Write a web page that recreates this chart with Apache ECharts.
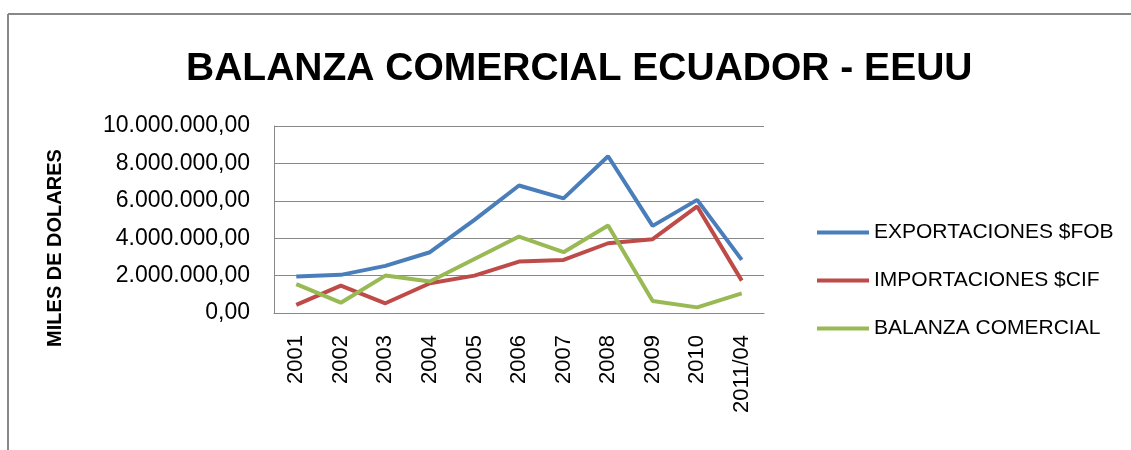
<!DOCTYPE html>
<html><head><meta charset="utf-8">
<script src="https://cdn.jsdelivr.net/npm/echarts@6/dist/echarts.min.js"></script>
<style>html,body{margin:0;padding:0;background:#fff}#c{width:1131px;height:450px}</style>
</head><body><div id="c"></div>
<script>
const categories = ['2001','2002','2003','2004','2005','2006','2007','2008','2009','2010','2011/04'];
const exportaciones = [1950000,2040000,2520000,3250000,4980000,6820000,6130000,8380000,4660000,6050000,2840000];
const importaciones = [430000,1460000,520000,1590000,2000000,2750000,2840000,3730000,3950000,5700000,1730000];
const balanza = [1540000,550000,2000000,1680000,2890000,4090000,3250000,4680000,640000,300000,1050000];
const seriesNames = ['EXPORTACIONES $FOB','IMPORTACIONES $CIF','BALANZA COMERCIAL'];
const colors = ['#4A7EBB','#BE4B48','#98B954'];

function fmt(v){
  const s = Math.round(v).toString().replace(/\B(?=(\d{3})+(?!\d))/g,'.');
  return s + ',00';
}
const chart = echarts.init(document.getElementById('c'));
const sans = 'Liberation Sans, Arial, sans-serif';
chart.setOption({
  animation:false,
  color:colors,
  title:{text:'BALANZA COMERCIAL ECUADOR - EEUU',left:181,top:45,
    textStyle:{fontSize:39,fontWeight:'bold',color:'#000',fontFamily:sans}},
  graphic:[
    {type:'line',shape:{x1:8,y1:14,x2:1131,y2:14},style:{stroke:'#888',lineWidth:2}},
    {type:'line',shape:{x1:8,y1:14,x2:8,y2:450},style:{stroke:'#888',lineWidth:2}},
    {type:'text',x:55,y:248,rotation:Math.PI/2,
      style:{text:'MILES DE DOLARES',fontSize:20,fontWeight:'bold',fill:'#000',fontFamily:sans,align:'center',verticalAlign:'middle'}}
  ],
  legend:{orient:'vertical',left:812,top:217,itemGap:27,itemWidth:52,itemHeight:4,icon:'rect',
    textStyle:{fontSize:21,color:'#000',fontFamily:sans},data:seriesNames},
  grid:{left:274,right:367,top:126,height:187},
  xAxis:{type:'category',data:categories,boundaryGap:true,
    axisLine:{lineStyle:{color:'#888'}},axisTick:{show:false},
    axisLabel:{rotate:90,fontSize:22,color:'#000',fontFamily:sans,margin:22,interval:0}},
  yAxis:{type:'value',min:0,max:10000000,interval:2000000,
    axisLine:{show:true,lineStyle:{color:'#888'}},axisTick:{show:false},
    splitLine:{lineStyle:{color:'#888',width:1}},
    axisLabel:{formatter:fmt,fontSize:23,color:'#000',fontFamily:sans,margin:24}},
  series:[
    {name:seriesNames[0],type:'line',data:exportaciones,symbol:'none',lineStyle:{width:4}},
    {name:seriesNames[1],type:'line',data:importaciones,symbol:'none',lineStyle:{width:4}},
    {name:seriesNames[2],type:'line',data:balanza,symbol:'none',lineStyle:{width:4}}
  ]
});
</script></body></html>
